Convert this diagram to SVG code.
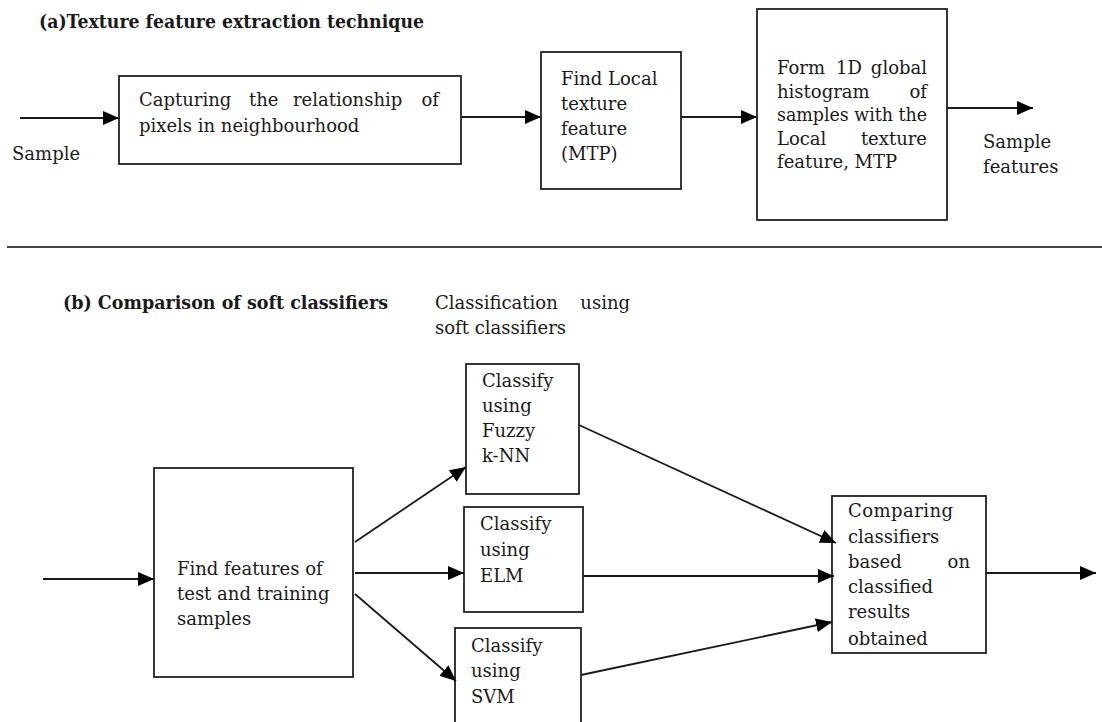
<svg xmlns="http://www.w3.org/2000/svg" width="1102" height="722" viewBox="0 0 1102 722">
<style>
  text { font-family: "DejaVu Serif", "Liberation Serif", serif; font-size: 18px; fill: #1a1a1a; }
  .title { font-weight: bold; }
  .end { text-anchor: end; }
  .box { fill: #ffffff; stroke: #222222; stroke-width: 1.8; }
  .conn { stroke: #1a1a1a; stroke-width: 1.8; fill: none; marker-end: url(#ah); }
</style>
<defs>
  <marker id="ah" markerWidth="16" markerHeight="14" refX="16" refY="7" orient="auto" markerUnits="userSpaceOnUse">
    <path d="M0,0 L16,7 L0,14 z" fill="#000000"/>
  </marker>
</defs>
<rect x="0" y="0" width="1102" height="722" fill="#ffffff"/>

<g id="title-a"><text class="title" x="39" y="28" textLength="385" lengthAdjust="spacingAndGlyphs">(a)Texture feature extraction technique</text></g>
<g id="label-sample"><text x="12" y="160">Sample</text></g>

<g id="node-capture">
  <rect class="box" x="119" y="76" width="342" height="88"/>
  <text y="106"><tspan x="139">Capturing</tspan><tspan x="249">the</tspan><tspan x="293">relationship</tspan><tspan x="439" class="end">of</tspan></text>
  <text x="139" y="132">pixels in neighbourhood</text>
</g>
<g id="node-local">
  <rect class="box" x="541" y="52" width="140" height="137"/>
  <text x="561" y="85">Find Local</text>
  <text x="561" y="110">texture</text>
  <text x="561" y="135">feature</text>
  <text x="561" y="160">(MTP)</text>
</g>
<g id="node-histogram">
  <rect class="box" x="757" y="9" width="190" height="211"/>
  <text y="74"><tspan x="777">Form</tspan><tspan x="836">1D</tspan><tspan x="927" class="end">global</tspan></text>
  <text y="98"><tspan x="777">histogram</tspan><tspan x="927" class="end">of</tspan></text>
  <text x="777" y="121" textLength="150" lengthAdjust="spacingAndGlyphs">samples with the</text>
  <text y="145"><tspan x="777">Local</tspan><tspan x="927" class="end">texture</tspan></text>
  <text x="777" y="168">feature, MTP</text>
</g>
<g id="label-sample-features">
  <text x="983" y="148">Sample</text>
  <text x="983" y="173">features</text>
</g>

<g id="separator"><line x1="7" y1="247" x2="1102" y2="247" stroke="#444444" stroke-width="2"/></g>

<g id="title-b"><text class="title" x="63" y="309" textLength="325" lengthAdjust="spacingAndGlyphs">(b) Comparison of soft classifiers</text></g>
<g id="label-classification">
  <text y="309"><tspan x="435">Classification</tspan><tspan x="630" class="end">using</tspan></text>
  <text x="435" y="334">soft classifiers</text>
</g>

<g id="node-features">
  <rect class="box" x="154" y="468" width="199" height="209"/>
  <text x="177" y="575">Find features of</text>
  <text x="177" y="600">test and training</text>
  <text x="177" y="625">samples</text>
</g>
<g id="node-fuzzy">
  <rect class="box" x="466" y="364" width="113" height="130"/>
  <text x="482" y="387">Classify</text>
  <text x="482" y="412">using</text>
  <text x="482" y="437">Fuzzy</text>
  <text x="482" y="462">k-NN</text>
</g>
<g id="node-elm">
  <rect class="box" x="464" y="507" width="119" height="105"/>
  <text x="480" y="530">Classify</text>
  <text x="480" y="556">using</text>
  <text x="480" y="582">ELM</text>
</g>
<g id="node-svm">
  <rect class="box" x="455" y="628" width="126" height="100"/>
  <text x="471" y="652">Classify</text>
  <text x="471" y="677">using</text>
  <text x="471" y="703">SVM</text>
</g>
<g id="node-compare">
  <rect class="box" x="832" y="496" width="154" height="157"/>
  <text x="848" y="517" textLength="105" lengthAdjust="spacing">Comparing</text>
  <text x="848" y="543">classifiers</text>
  <text y="568"><tspan x="848">based</tspan><tspan x="970" class="end">on</tspan></text>
  <text x="848" y="593">classified</text>
  <text x="848" y="618">results</text>
  <text x="848" y="645">obtained</text>
</g>

<g id="connectors">
  <line class="conn" x1="20" y1="118" x2="119" y2="118"/>
  <line class="conn" x1="461" y1="117" x2="541" y2="117"/>
  <line class="conn" x1="681" y1="117" x2="757" y2="117"/>
  <line class="conn" x1="947" y1="108" x2="1033" y2="108"/>
  <line class="conn" x1="43" y1="579" x2="154" y2="579"/>
  <line class="conn" x1="355" y1="542" x2="466" y2="467"/>
  <line class="conn" x1="355" y1="573" x2="464" y2="573"/>
  <line class="conn" x1="355" y1="594" x2="456" y2="681"/>
  <line class="conn" x1="579" y1="425" x2="836" y2="543"/>
  <line class="conn" x1="583" y1="576" x2="834" y2="576"/>
  <line class="conn" x1="581" y1="675" x2="832" y2="622"/>
  <line class="conn" x1="986" y1="573" x2="1096" y2="573"/>
</g>
</svg>
